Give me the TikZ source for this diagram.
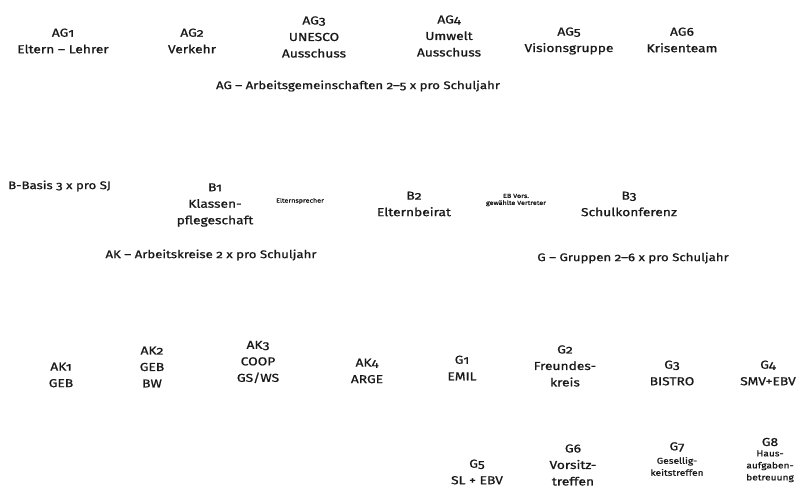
\documentclass[tikz,border=0pt]{standalone}
\usepackage{fontspec}
\setmainfont{Fira Sans}[Numbers=OldStyle, FakeStretch=1.2, FakeBold=1]
\usepackage{tikz}
\usetikzlibrary{positioning}
\definecolor{ink}{RGB}{25,25,25}

\tikzset{
  unit/.style={ink, align=center, inner sep=0pt, font=\fontsize{11.5}{16.5}\selectfont},
  headline/.style={ink, inner sep=0pt, font=\fontsize{11}{13}\selectfont},
  wee/.style={ink, align=center, inner sep=0pt, font=\fontsize{6}{7}\selectfont},
  minor/.style={ink, align=center, inner sep=0pt, font=\fontsize{8.5}{12}\selectfont}
}

\begin{document}
\begin{tikzpicture}[x=1pt, y=-1pt]
  \useasboundingbox (0,0) rectangle (801,497);
  % AG row
  \node[unit] (ag1) at (63,41) {AG1\\Eltern -- Lehrer};
  \node[unit] (ag2) at (192,41) {AG2\\Verkehr};
  \node[unit] (ag3) at (314,37) {AG3\\UNESCO\\Ausschuss};
  \node[unit] (ag4) at (449,36) {AG4\\Umwelt\\Ausschuss};
  \node[unit] (ag5) at (569,41) {AG5\\Visionsgruppe};
  \node[unit] (ag6) at (682,40) {AG6\\Krisenteam};
  \node[headline] (agtitle) at (358,86) {AG -- Arbeitsgemeinschaften 2--5 x pro Schuljahr};

  % B row
  \node[headline, anchor=west] (basis) at (8,186) {B-Basis 3 x pro SJ};
  \node[unit] (b1) at (215,205) {B1\\Klassen-\\pflegeschaft};
  \node[wee] (elsp) at (300,201) {Elternsprecher};
  \node[unit] (b2) at (414,204) {B2\\Elternbeirat};
  \node[wee] (ebvors) at (516,200) {EB Vors.\\gewählte Vertreter};
  \node[unit] (b3) at (629,204) {B3\\Schulkonferenz};
  \node[headline] (aktitle) at (211,255) {AK -- Arbeitskreise 2 x pro Schuljahr};
  \node[headline] (gtitle) at (633,258) {G -- Gruppen 2--6 x pro Schuljahr};

  % AK row
  \node[unit] (ak1) at (61,375) {AK1\\GEB};
  \node[unit] (ak2) at (152,367) {AK2\\GEB\\BW};
  \node[unit] (ak3) at (258,362) {AK3\\COOP\\GS/WS};
  \node[unit] (ak4) at (367,371) {AK4\\ARGE};

  % G rows
  \node[unit] (g1) at (462,368) {G1\\EMIL};
  \node[unit] (g2) at (565,366) {G2\\Freundes-\\kreis};
  \node[unit] (g3) at (672,373) {G3\\BISTRO};
  \node[unit] (g4) at (768,373) {G4\\SMV+EBV};
  \node[unit] (g5) at (477,472) {G5\\SL + EBV};
  \node[unit] (g6) at (573,465) {G6\\Vorsitz-\\treffen};
  \node[unit] (g7) at (677,447) {G7};
  \node[minor, below=5pt of g7] (g7txt) {Gesellig-\\keitstreffen};
  \node[unit] (g8) at (770,442) {G8};
  \node[minor, below=4pt of g8] (g8txt) {Haus-\\aufgaben-\\betreuung};
\end{tikzpicture}
\end{document}
